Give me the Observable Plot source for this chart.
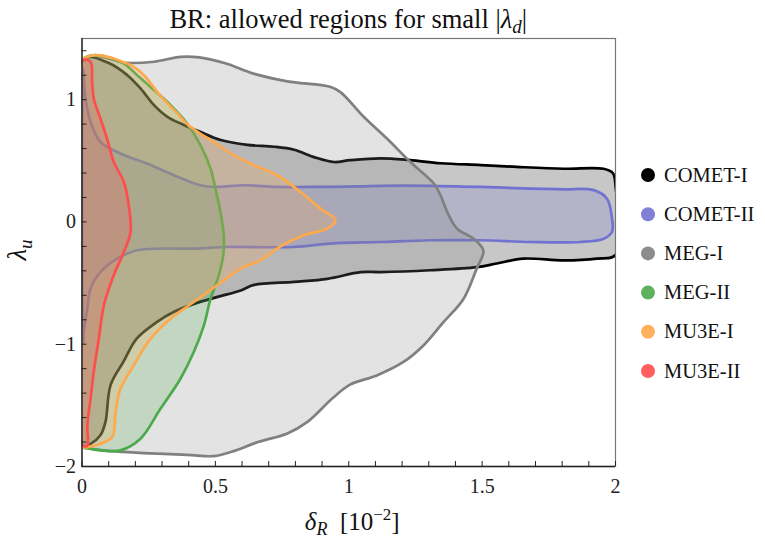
<!DOCTYPE html>
<html>
<head>
<meta charset="utf-8">
<script src="https://cdn.jsdelivr.net/npm/d3@7"></script>
<script src="https://cdn.jsdelivr.net/npm/@observablehq/plot@0.6"></script>
<style>
  html, body { margin: 0; padding: 0; background: #fff; }
  #chart { width: 765px; height: 542px; }
  #chart svg, #chart svg text, #chart svg tspan { font-family: "Liberation Serif", "DejaVu Serif", serif !important; }
</style>
</head>
<body>
<div id="chart"></div>
<script>
// ---- data: series names and colours ----
const seriesNames = ["COMET-I", "COMET-II", "MEG-I", "MEG-II", "MU3E-I", "MU3E-II"];
const seriesColors = ["#000000", "#7272d2", "#808080", "#4caa4c", "#ffa94d", "#ff4d4d"];

// ---- region outlines [deltaR (1e-2), lambda_u] ----
const cometI = [[0.004,1.33],[0.10,1.30],[0.17,1.20],[0.22,1.09],[0.27,0.955],[0.32,0.86],[0.38,0.795],[0.445,0.735],[0.52,0.67],[0.62,0.63],[0.72,0.615],[0.795,0.59],[0.87,0.53],[0.945,0.49],[1.005,0.505],[1.12,0.52],[1.23,0.505],[1.345,0.48],[1.495,0.465],[1.63,0.45],[1.805,0.435],[1.955,0.435],[1.99,0.40],[2.0,0.30],[2.0,-0.27],[1.93,-0.30],[1.805,-0.315],[1.655,-0.30],[1.555,-0.34],[1.48,-0.37],[1.305,-0.395],[1.12,-0.41],[1.045,-0.41],[0.92,-0.465],[0.795,-0.49],[0.645,-0.515],[0.595,-0.56],[0.505,-0.615],[0.42,-0.67],[0.345,-0.735],[0.28,-0.82],[0.205,-0.955],[0.155,-1.145],[0.107,-1.335],[0.088,-1.635],[0.069,-1.745],[0.032,-1.815],[0.004,-1.83]];
const cometII = [[0.004,1.25],[0.013,1.01],[0.032,0.82],[0.069,0.655],[0.144,0.56],[0.244,0.477],[0.344,0.382],[0.444,0.30],[0.507,0.286],[0.606,0.30],[0.731,0.286],[0.856,0.286],[1.044,0.29],[1.119,0.295],[1.306,0.295],[1.494,0.286],[1.681,0.273],[1.806,0.267],[1.918,0.26],[1.968,0.19],[1.987,0.027],[1.987,-0.08],[1.956,-0.137],[1.868,-0.164],[1.681,-0.164],[1.494,-0.15],[1.306,-0.15],[1.119,-0.164],[0.931,-0.177],[0.794,-0.205],[0.544,-0.205],[0.419,-0.218],[0.294,-0.218],[0.207,-0.232],[0.132,-0.30],[0.069,-0.41],[0.032,-0.546],[0.02,-0.71],[0.007,-0.90],[0.004,-1.0]];
const megI = [[0.004,1.33],[0.17,1.30],[0.27,1.31],[0.37,1.35],[0.44,1.345],[0.54,1.295],[0.64,1.215],[0.77,1.15],[0.93,1.105],[0.97,1.06],[1.056,0.86],[1.144,0.68],[1.231,0.49],[1.319,0.314],[1.344,0.218],[1.369,0.082],[1.406,-0.055],[1.468,-0.137],[1.5,-0.21],[1.505,-0.25],[1.48,-0.38],[1.43,-0.63],[1.355,-0.82],[1.28,-1.01],[1.205,-1.145],[1.105,-1.255],[1.005,-1.33],[0.94,-1.44],[0.845,-1.635],[0.77,-1.73],[0.66,-1.80],[0.56,-1.88],[0.495,-1.915],[0.395,-1.905],[0.23,-1.89],[0.11,-1.875],[0.02,-1.85],[0.004,-1.84]];
const megII = [[0.004,1.33],[0.144,1.31],[0.207,1.20],[0.27,1.078],[0.332,0.955],[0.394,0.805],[0.444,0.628],[0.482,0.436],[0.50,0.273],[0.519,0.082],[0.531,-0.10],[0.531,-0.245],[0.513,-0.436],[0.482,-0.627],[0.457,-0.846],[0.419,-1.064],[0.369,-1.282],[0.294,-1.528],[0.219,-1.773],[0.144,-1.868],[0.069,-1.868],[0.02,-1.85],[0.004,-1.84]];
const mu3eI = [[0.004,1.33],[0.17,1.295],[0.232,1.20],[0.294,1.03],[0.357,0.89],[0.394,0.80],[0.444,0.72],[0.494,0.655],[0.569,0.546],[0.644,0.464],[0.731,0.382],[0.819,0.245],[0.894,0.109],[0.95,0.014],[0.919,-0.055],[0.831,-0.109],[0.744,-0.20],[0.669,-0.314],[0.594,-0.382],[0.507,-0.518],[0.419,-0.655],[0.332,-0.791],[0.257,-0.955],[0.194,-1.173],[0.144,-1.364],[0.126,-1.555],[0.113,-1.759],[0.069,-1.814],[0.02,-1.841],[0.004,-1.84]];
const mu3eII = [[0.004,1.32],[0.032,1.31],[0.038,1.146],[0.044,1.009],[0.069,0.845],[0.094,0.682],[0.119,0.491],[0.157,0.327],[0.175,0.136],[0.182,-0.082],[0.157,-0.245],[0.119,-0.436],[0.082,-0.682],[0.063,-0.955],[0.044,-1.227],[0.032,-1.446],[0.02,-1.664],[0.02,-1.828],[0.004,-1.83]];
const regions = [cometI, cometII, megI, megII, mu3eI, mu3eII];

// ---- tick labels ----
const xMajorTicks = [0, 0.5, 1, 1.5, 2];
const xMinorTicks = d3.range(0, 21).map(i => i / 10);
const yMajorTicks = [-2, -1, 0, 1];
const yMinorTicks = d3.range(-10, 8).map(i => i / 5);

const W = 765, H = 542;
const FONT = '"Liberation Serif", "DejaVu Serif", serif';
const regionMarks = regions.map((pts, i) => Plot.line(pts, {
  x: d => d[0], y: d => d[1],
  curve: "catmull-rom-closed",
  fill: seriesColors[i], fillOpacity: 0.22,
  stroke: seriesColors[i], strokeWidth: 2.7, strokeLinejoin: "round",
  clip: true
}));

const plot = Plot.plot({
  width: W, height: H,
  marginLeft: 81.5, marginRight: 150, marginTop: 38, marginBottom: 76,
  style: { fontFamily: FONT, background: "white", color: "#222" },
  x: { domain: [0, 2] },
  y: { domain: [-2, 1.5] },
  marks: [
    ...regionMarks,
    Plot.frame({ stroke: "#777", strokeWidth: 1.2 }),
    Plot.ruleX([0], { stroke: "#222", strokeWidth: 1.3 }),
    Plot.ruleY([-2], { stroke: "#222", strokeWidth: 1.3 }),
    Plot.axisX({ ticks: xMinorTicks, tickSize: -5, fill: "none", label: null, stroke: "#222" }),
    Plot.axisX({ ticks: xMajorTicks, tickSize: 0, tickPadding: 12, label: null, fontSize: 20, fill: "#222", tickFormat: d => String(d) }),
    Plot.axisY({ ticks: yMinorTicks, tickSize: -5, fill: "none", label: null, stroke: "#222" }),
    Plot.axisY({ ticks: yMajorTicks, tickSize: 0, tickPadding: 6, label: null, fontSize: 20, fill: "#222", tickFormat: d => d < 0 ? "−" + Math.abs(d) : String(d) })
  ]
});
document.getElementById("chart").appendChild(plot);

const svg = d3.select(plot);
const cx = (81.5 + (W - 150)) / 2;

// title
const title = svg.append("text").attr("x", cx).attr("y", 28).attr("text-anchor", "middle")
  .style("font-family", FONT).attr("font-size", 26.5).attr("fill", "#111");
title.append("tspan").text("BR: allowed regions for small |");
title.append("tspan").attr("font-style", "italic").text("λ");
title.append("tspan").attr("font-style", "italic").attr("font-size", 19).attr("dy", 5).text("d");
title.append("tspan").attr("dy", -5).text("|");

// x label
const xl = svg.append("text").attr("x", cx + 4).attr("y", 530).attr("text-anchor", "middle")
  .style("font-family", FONT).attr("font-size", 25).attr("fill", "#111");
xl.append("tspan").attr("font-style", "italic").text("δ");
xl.append("tspan").attr("font-style", "italic").attr("font-size", 18).attr("dy", 5).text("R");
xl.append("tspan").attr("dy", -5).text("\u2002[10");
xl.append("tspan").attr("font-size", 17).attr("dy", -10).text("−2");
xl.append("tspan").attr("dy", 10).text("]");

// y label
const yl = svg.append("text").attr("transform", "translate(26,250) rotate(-90)").attr("text-anchor", "middle")
  .style("font-family", FONT).attr("font-size", 27).attr("fill", "#111");
yl.append("tspan").attr("font-style", "italic").text("λ");
yl.append("tspan").attr("font-style", "italic").attr("font-size", 19).attr("dy", 6).text("u");

// legend
const lg = svg.append("g");
seriesNames.forEach((name, i) => {
  const yy = 175 + i * 39.2;
  lg.append("circle").attr("cx", 648).attr("cy", yy).attr("r", 7).attr("fill", seriesColors[i]).attr("fill-opacity", i === 0 ? 1 : 0.9);
  lg.append("text").attr("x", 664).attr("y", yy + 6.5).attr("text-anchor", "start")
    .style("font-family", FONT).attr("font-size", 20.5).attr("fill", "#111").text(name);
});
</script>
</body>
</html>
